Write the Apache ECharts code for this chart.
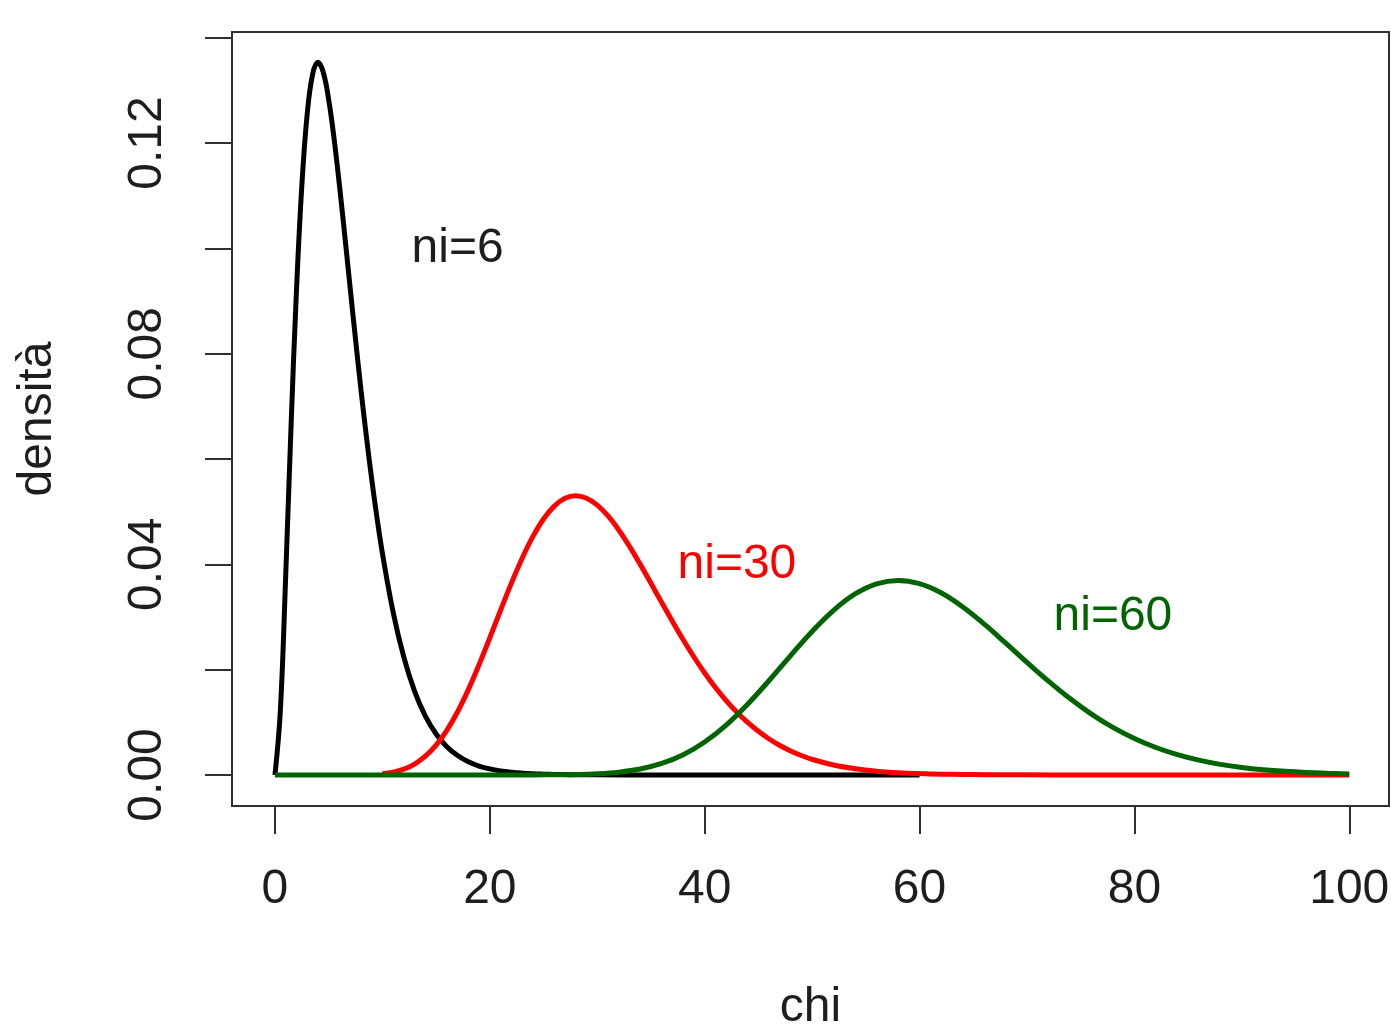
<!DOCTYPE html>
<html>
<head>
<meta charset="utf-8">
<title>Densità chi quadrato</title>
<script src="https://cdn.jsdelivr.net/npm/echarts@6/dist/echarts.min.js"></script>
<style>
  html, body { margin: 0; padding: 0; background: #ffffff; }
  #chart { width: 1391px; height: 1030px; }
</style>
</head>
<body>
<div id="chart"></div>
<script>
// Chi-square densities for 6, 30 and 60 degrees of freedom
const x6 = [0, 0.5, 1, 1.5, 2, 2.5, 3, 3.5, 4, 4.5, 5, 5.5, 6, 6.5, 7, 7.5, 8, 8.5, 9, 9.5, 10,
  11, 12, 13, 14, 15, 16, 17, 18, 19, 20, 21, 22, 23, 24, 25, 26, 27, 28, 29, 30,
  35, 40, 45, 50, 55, 60];
const dens6 = [0, 0.01217, 0.03791, 0.06643, 0.09197, 0.11191, 0.12551, 0.13304, 0.13534, 0.13340, 0.12826,
  0.12087, 0.11202, 0.10238, 0.09248, 0.08268, 0.07326, 0.06441, 0.05624, 0.04880, 0.04211,
  0.03091, 0.02231, 0.01588, 0.01117, 0.00778, 0.00537, 0.00368, 0.00250, 0.00169, 0.00114,
  0.00076, 0.00051, 0.00034, 0.00022, 0.00015, 0.00010, 0.00006, 0.00004, 0.00003, 0.00002,
  0, 0, 0, 0, 0, 0];

const x30 = [10, 11, 12, 13, 14, 15, 16, 17, 18, 19, 20, 21, 22, 23, 24, 25, 26, 27, 28, 29, 30,
  31, 32, 33, 34, 35, 36, 37, 38, 39, 40, 41, 42, 43, 44, 45, 46, 47, 48, 49, 50,
  52, 54, 56, 58, 60, 62, 64, 66, 70, 75, 80, 90, 100];
const dens30 = [0.00024, 0.00054, 0.00111, 0.00207, 0.00355, 0.00566, 0.00847, 0.01200, 0.01620, 0.02094, 0.02605,
  0.03128, 0.03638, 0.04111, 0.04525, 0.04861, 0.05106, 0.05253, 0.05301, 0.05255, 0.05124,
  0.04918, 0.04652, 0.04341, 0.03999, 0.03639, 0.03274, 0.02914, 0.02567, 0.02240, 0.01937,
  0.01660, 0.01411, 0.01190, 0.00996, 0.00828, 0.00683, 0.00559, 0.00456, 0.00369, 0.00297,
  0.00189, 0.00118, 0.00072, 0.00043, 0.00026, 0.00015, 0.00009, 0.00005, 0.00002, 0, 0, 0, 0];

const x60 = [0, 10, 20, 24, 26, 28, 30, 32, 34, 36, 38, 40, 42, 44, 46, 48, 50, 52, 54, 56, 58, 60,
  62, 64, 66, 68, 70, 72, 74, 76, 78, 80, 82, 84, 86, 88, 90, 92, 94, 96, 98, 100];
const dens60 = [0, 0, 0, 0.00001, 0.00003, 0.00008, 0.00022, 0.00053, 0.00113, 0.00218, 0.00384,
  0.00626, 0.00948, 0.01344, 0.01794, 0.02267, 0.02724, 0.03127, 0.03437, 0.03630, 0.03695, 0.03633,
  0.03459, 0.03195, 0.02868, 0.02507, 0.02138, 0.01781, 0.01450, 0.01156, 0.00903, 0.00692,
  0.00521, 0.00386, 0.00281, 0.00201, 0.00142, 0.00099, 0.00068, 0.00046, 0.00031, 0.00020];

// Axis ticks and labels
const xTicks = [0, 20, 40, 60, 80, 100];
const yTicks = [0, 0.02, 0.04, 0.06, 0.08, 0.10, 0.12, 0.14];
const yLabels = [0, 0.04, 0.08, 0.12];

// Curve annotations
const noteText = ['ni=6', 'ni=30', 'ni=60'];
const noteX = [17, 43, 78];
const noteY = [0.10, 0.04, 0.03];

const FONT = "'Liberation Sans', Arial, sans-serif";
const TEXT_SIZE = 48;
const INK = '#1e1e1e';
const FRAME = '#303030';
const curveColors = ['#000000', '#ff0000', '#006400'];

const pairs = (xs, ys) => xs.map((x, i) => [x, ys[i]]);

const curveSeries = [
  pairs(x6, dens6),
  pairs(x30, dens30),
  pairs(x60, dens60)
].map((data, i) => ({
  type: 'line',
  data: data,
  smooth: 0.4,
  showSymbol: false,
  symbol: 'none',
  silent: true,
  animation: false,
  z: 2 + i,
  lineStyle: { color: curveColors[i], width: 5 }
}));

const noteSeries = noteText.map((t, i) => ({
  type: 'scatter',
  data: [[noteX[i], noteY[i]]],
  symbolSize: 1,
  itemStyle: { opacity: 1, color: 'transparent' },
  silent: true,
  animation: false,
  z: 10,
  label: {
    show: true,
    position: 'inside',
    formatter: t,
    fontFamily: FONT,
    fontSize: TEXT_SIZE,
    opacity: 1,
    color: curveColors[i] === '#000000' ? INK : curveColors[i]
  }
}));

const chart = echarts.init(document.getElementById('chart'), null, { renderer: 'canvas' });
chart.setOption({
  backgroundColor: '#ffffff',
  animation: false,
  grid: {
    left: 232, top: 32, right: 2, bottom: 224,
    outerBoundsMode: 'none',
    containLabel: false,
    show: true, borderColor: FRAME, borderWidth: 2, backgroundColor: 'transparent'
  },
  xAxis: {
    type: 'value',
    min: -4, max: 103.7,
    name: 'chi',
    nameLocation: 'middle',
    nameGap: 178,
    nameTextStyle: { fontFamily: FONT, fontSize: TEXT_SIZE, color: INK },
    axisLine: { show: true, onZero: false, lineStyle: { color: FRAME, width: 2 } },
    axisTick: { show: true, inside: false, length: 28, customValues: xTicks,
      lineStyle: { color: FRAME, width: 2 } },
    axisLabel: { show: true, margin: 60, customValues: xTicks,
      fontFamily: FONT, fontSize: TEXT_SIZE, color: INK,
      formatter: v => String(Math.round(v)) },
    splitLine: { show: false }
  },
  yAxis: {
    type: 'value',
    min: -0.0059, max: 0.1411,
    name: 'densità',
    nameLocation: 'middle',
    nameRotate: 90,
    nameGap: 170,
    nameTextStyle: { fontFamily: FONT, fontSize: TEXT_SIZE, color: INK },
    axisLine: { show: true, onZero: false, lineStyle: { color: FRAME, width: 2 } },
    axisTick: { show: true, inside: false, length: 27, customValues: yTicks,
      lineStyle: { color: FRAME, width: 2 } },
    axisLabel: { show: true, margin: 60, rotate: 90, customValues: yLabels,
      fontFamily: FONT, fontSize: TEXT_SIZE, color: INK,
      formatter: v => v.toFixed(2) },
    splitLine: { show: false }
  },
  series: curveSeries.concat(noteSeries)
});
</script>
</body>
</html>
